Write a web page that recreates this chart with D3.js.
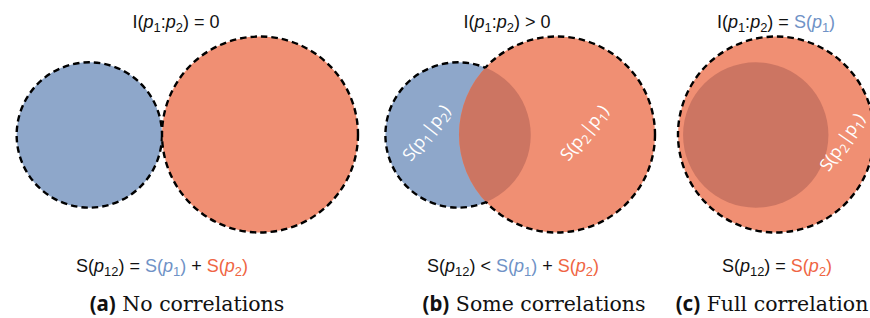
<!DOCTYPE html>
<html>
<head>
<meta charset="utf-8">
<script src="https://cdn.jsdelivr.net/npm/d3@7"></script>
<style>
  body { margin: 0; background: #fff; }
  svg { display: block; }
</style>
</head>
<body>
<div id="vis"></div>
<script>
// entropies (relative to S(p2) = 1)
var panels = ['a', 'b', 'c'];
var entropyP1 = [0.55, 0.55, 0.55];
var entropyP2 = [1, 1, 1];
var mutualInfo = [0, 0.227, 0.55];

var titles = [
  [['I(p{1}:p{2}) = 0', 'k']],
  [['I(p{1}:p{2}) > 0', 'k']],
  [['I(p{1}:p{2}) = ', 'k'], ['S(p{1})', 'b']]
];
var equations = [
  [['S(p{12}) = ', 'k'], ['S(p{1})', 'b'], [' + ', 'k'], ['S(p{2})', 'o']],
  [['S(p{12}) < ', 'k'], ['S(p{1})', 'b'], [' + ', 'k'], ['S(p{2})', 'o']],
  [['S(p{12}) = ', 'k'], ['S(p{2})', 'o']]
];
var captionTags = ['(a)', '(b)', '(c)'];
var captions = ['No correlations', 'Some correlations', 'Full correlation'];
var innerLabels = [
  [],
  [['S(q{1}|q{2})', 'blue'], ['S(q{2}|q{1})', 'orange']],
  [['S(q{2}|q{1})', 'orange']]
];

var w = 870, h = 318;
var fills = { blue: '#8ea7ca', orange: '#f08f73', both: '#cc7562' };
var inks = { k: '#111', b: '#6f92c6', o: '#ef6543', w: '#fff' };

var rScale = d3.scaleSqrt().domain([0, 1]).range([0, 98]);

// lens area of two circles at distance d
function lens(r1, r2, d){
  if(d >= r1 + r2) return 0;
  if(d <= Math.abs(r2 - r1)) return Math.PI * Math.min(r1, r2) * Math.min(r1, r2);
  var a1 = Math.acos((d*d + r1*r1 - r2*r2) / (2*d*r1));
  var a2 = Math.acos((d*d + r2*r2 - r1*r1) / (2*d*r2));
  var k = Math.sqrt((-d + r1 + r2) * (d + r1 - r2) * (d - r1 + r2) * (d + r1 + r2));
  return r1*r1*a1 + r2*r2*a2 - 0.5*k;
}
// center distance giving the wanted overlap area (bisection)
function distanceFor(r1, r2, area){
  if(area <= 0) return r1 + r2;
  var lo = 0, hi = r1 + r2;
  if(area >= lens(r1, r2, Math.abs(r2 - r1)) - 1e-6) return (r2 - r1) * 0.8;
  for(var i = 0; i < 60; i++){
    var mid = (lo + hi) / 2;
    if(lens(r1, r2, mid) > area) lo = mid; else hi = mid;
  }
  return (lo + hi) / 2;
}

var svg = d3.select('#vis').append('svg').attr('width', w).attr('height', h);
var defs = svg.append('defs');

var orangeX = [260, 557, 776]; // panel anchors
var cy = 134.5;
var titleX = [176, 507, 776], eqX = [162, 513, 777], capX = [187, 534, 772];
var sansFont = '"Liberation Sans", Arial, Helvetica, sans-serif';

// writes "p{n}" as italic p with subscript, "q{n}" upright p with subscript
function mathText(sel, parts, colorOverride){
  var shift = 0;
  parts.forEach(function(part){
    var color = colorOverride || inks[part[1]];
    part[0].split(/([pq]\{\d+\})/).forEach(function(tok){
      if(!tok) return;
      var m = tok.match(/^([pq])\{(\d+)\}$/);
      if(m){
        sel.append('tspan').attr('fill', color).attr('dy', -shift)
          .style('font-style', m[1] === 'p' ? 'italic' : 'normal').text('p');
        sel.append('tspan').attr('fill', color).attr('dy', 4)
          .attr('font-size', '0.72em').text(m[2]);
        shift = 4;
      } else {
        sel.append('tspan').attr('fill', color).attr('dy', -shift).text(tok);
        shift = 0;
      }
    });
  });
}

panels.forEach(function(p, i){
  var r1 = rScale(entropyP1[i]), r2 = rScale(entropyP2[i]);
  var area2 = Math.PI * r2 * r2;
  var d = distanceFor(r1, r2, mutualInfo[i] / entropyP2[i] * area2);
  var c2 = { x: orangeX[i], y: cy, r: r2 };
  var c1 = { x: orangeX[i] - d, y: cy + 0.5, r: r1 };

  var g = svg.append('g');

  // clip & masks
  defs.append('clipPath').attr('id', 'clip1' + p)
    .append('circle').attr('cx', c1.x).attr('cy', c1.y).attr('r', c1.r);
  var m1 = defs.append('mask').attr('id', 'not1' + p);
  m1.append('rect').attr('width', w).attr('height', h).attr('fill', '#fff');
  m1.append('circle').attr('cx', c1.x).attr('cy', c1.y).attr('r', c1.r - 0.5).attr('fill', '#000');
  var m2 = defs.append('mask').attr('id', 'not2' + p);
  m2.append('rect').attr('width', w).attr('height', h).attr('fill', '#fff');
  m2.append('circle').attr('cx', c2.x).attr('cy', c2.y).attr('r', c2.r - 0.5).attr('fill', '#000');

  // fills
  g.append('circle').attr('cx', c1.x).attr('cy', c1.y).attr('r', c1.r).attr('fill', fills.blue);
  g.append('circle').attr('cx', c2.x).attr('cy', c2.y).attr('r', c2.r).attr('fill', fills.orange);
  g.append('circle').attr('cx', c2.x).attr('cy', c2.y).attr('r', c2.r).attr('fill', fills.both)
    .attr('clip-path', 'url(#clip1' + p + ')');

  // dashed outline of the union
  g.append('circle').attr('cx', c1.x).attr('cy', c1.y).attr('r', c1.r)
    .attr('fill', 'none').attr('stroke', '#000').attr('stroke-width', 2.4)
    .attr('stroke-dasharray', '6.5,4').attr('mask', 'url(#not2' + p + ')');
  g.append('circle').attr('cx', c2.x).attr('cy', c2.y).attr('r', c2.r)
    .attr('fill', 'none').attr('stroke', '#000').attr('stroke-width', 2.4)
    .attr('stroke-dasharray', '6.5,4').attr('mask', 'url(#not1' + p + ')');

  // rotated conditional labels
  innerLabels[i].forEach(function(lab){
    var pos, ang;
    if(lab[1] === 'blue'){ pos = [c1.x - 27, cy + 2]; ang = -52; }
    else if(i === 1){ pos = [c2.x + 32, cy + 2]; ang = -51; }
    else { pos = [c2.x + 71, cy + 11]; ang = -56; }
    var t = g.append('text')
      .attr('transform', 'translate(' + pos[0] + ',' + pos[1] + ') rotate(' + ang + ')')
      .attr('text-anchor', 'middle').attr('dy', '0.35em')
      .style('font-family', '"Open Sans", "Liberation Sans", sans-serif')
      .style('font-size', '17.5px');
    mathText(t, [[lab[0], 'w']], '#fff');
  });

  // title and equation
  var tt = svg.append('text').attr('x', titleX[i]).attr('y', 28).attr('text-anchor', 'middle')
    .style('font-family', sansFont).style('font-size', '18px');
  mathText(tt, titles[i]);
  var te = svg.append('text').attr('x', eqX[i]).attr('y', 272).attr('text-anchor', 'middle')
    .style('font-family', sansFont).style('font-size', '18px');
  mathText(te, equations[i]);

  // caption
  var tc = svg.append('text').attr('x', capX[i]).attr('y', 311).attr('text-anchor', 'middle')
    .style('font-family', '"DejaVu Serif", "Liberation Serif", serif').style('font-size', '20.5px')
    .attr('fill', '#111');
  tc.append('tspan').style('font-family', '"Noto Sans", sans-serif').style('font-weight', 'bold')
    .text(captionTags[i]);
  tc.append('tspan').text(' ' + captions[i]);
});
</script>
</body>
</html>
